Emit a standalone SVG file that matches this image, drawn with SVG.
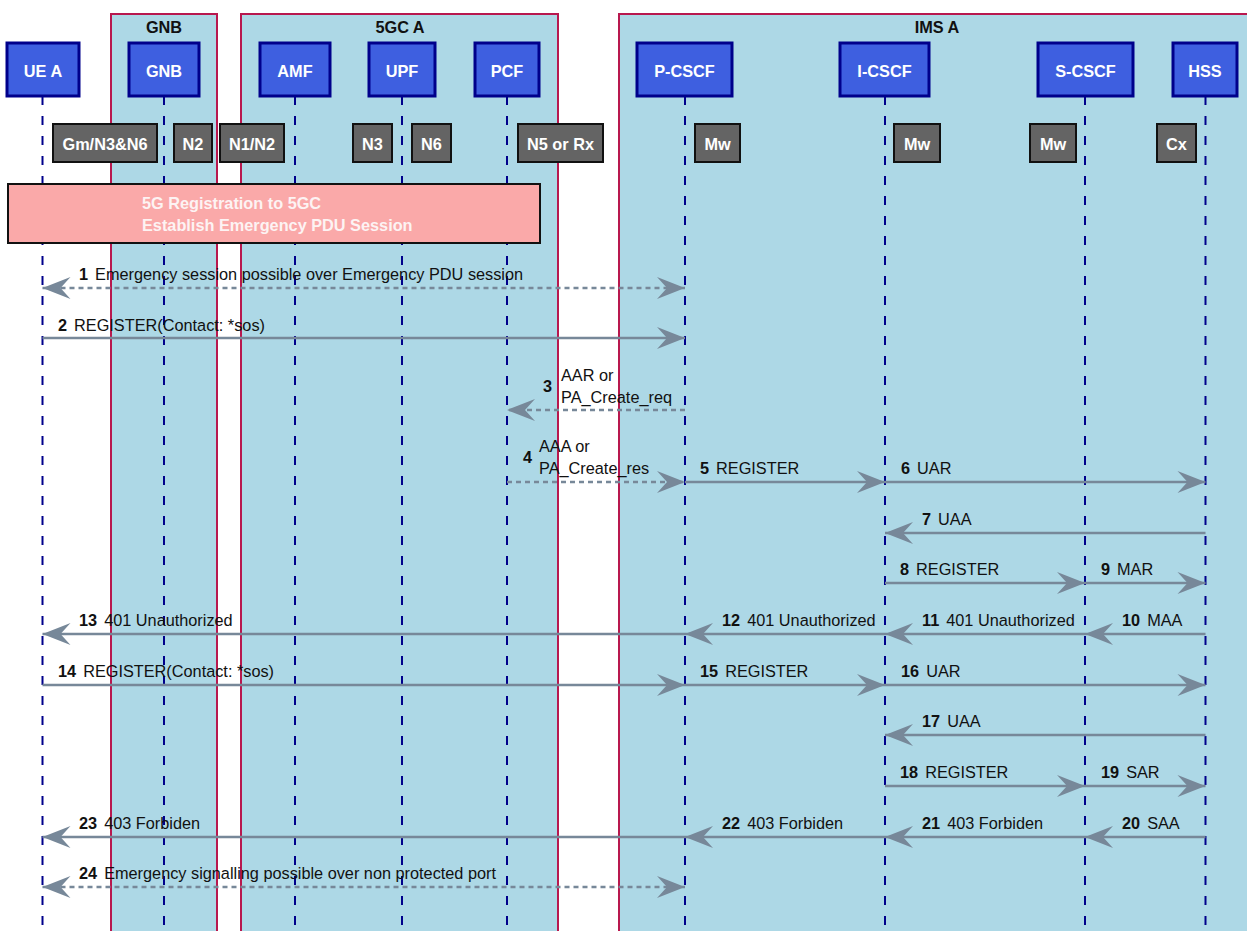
<svg xmlns="http://www.w3.org/2000/svg" width="1247" height="931" viewBox="0 0 1247 931">
<style>
text{font-family:"Liberation Sans",Arial,sans-serif;font-size:16.3px;fill:#111}
.grp{fill:#add8e6;stroke:#b8184e;stroke-width:2}
.gl{font-weight:bold;text-anchor:middle}
.node rect{fill:#3e5fe0;stroke:#00008b;stroke-width:3}
.node text{fill:#fff;font-weight:bold;text-anchor:middle}
.life{stroke:#00008b;stroke-width:2;stroke-dasharray:9,11}
.ifc rect{fill:#646464;stroke:#111;stroke-width:2}
.ifc text{fill:#fff;font-weight:bold;text-anchor:middle}
.msg{stroke:#778899;stroke-width:2.5;fill:none;marker-end:url(#ah)}
.dash{stroke-dasharray:5,4}
.bi{marker-start:url(#ah)}
.n{font-weight:bold}
</style>
<defs>
<marker id="ah" viewBox="-30 -13 32 26" refX="0" refY="0" markerWidth="32" markerHeight="26" markerUnits="userSpaceOnUse" orient="auto-start-reverse">
<path d="M0,0 L-28,-11 L-18,0 L-28,11 Z" fill="#778899"/>
</marker>
</defs>
<rect width="1247" height="931" fill="#fff"/>
<g id="group-gnb"><rect class="grp" x="111" y="14" width="106" height="930"/><text class="gl" x="164" y="33">GNB</text></g>
<g id="group-5gc"><rect class="grp" x="241" y="14" width="317" height="930"/><text class="gl" x="400" y="33">5GC A</text></g>
<g id="group-ims"><rect class="grp" x="619" y="14" width="640" height="930"/><text class="gl" x="937" y="33">IMS A</text></g>

<g id="node-uea" class="node"><line class="life" x1="42.5" y1="96" x2="42.5" y2="931"/><rect x="7" y="43" width="72" height="53"/><text x="43" y="77">UE A</text></g>
<g id="node-gnb" class="node"><line class="life" x1="164" y1="96" x2="164" y2="931"/><rect x="129" y="43" width="70" height="53"/><text x="164" y="77">GNB</text></g>
<g id="node-amf" class="node"><line class="life" x1="295" y1="96" x2="295" y2="931"/><rect x="260" y="43" width="70" height="53"/><text x="295" y="77">AMF</text></g>
<g id="node-upf" class="node"><line class="life" x1="402" y1="96" x2="402" y2="931"/><rect x="369" y="43" width="66" height="53"/><text x="402" y="77">UPF</text></g>
<g id="node-pcf" class="node"><line class="life" x1="507" y1="96" x2="507" y2="931"/><rect x="475" y="43" width="64" height="53"/><text x="507" y="77">PCF</text></g>
<g id="node-pcscf" class="node"><line class="life" x1="685" y1="96" x2="685" y2="931"/><rect x="637" y="43" width="95" height="53"/><text x="684.5" y="77">P-CSCF</text></g>
<g id="node-icscf" class="node"><line class="life" x1="885" y1="96" x2="885" y2="931"/><rect x="840" y="43" width="89" height="53"/><text x="884.5" y="77">I-CSCF</text></g>
<g id="node-scscf" class="node"><line class="life" x1="1085" y1="96" x2="1085" y2="931"/><rect x="1038" y="43" width="95" height="53"/><text x="1085.5" y="77">S-CSCF</text></g>
<g id="node-hss" class="node"><line class="life" x1="1205.5" y1="96" x2="1205.5" y2="931"/><rect x="1173" y="43" width="64" height="53"/><text x="1205" y="77">HSS</text></g>

<g id="interfaces" class="ifc">
<g id="if-gm"><rect x="53" y="124" width="104" height="38"/><text x="105" y="150">Gm/N3&amp;N6</text></g>
<g id="if-n2"><rect x="174" y="124" width="38" height="38"/><text x="193" y="150">N2</text></g>
<g id="if-n1n2"><rect x="220" y="124" width="64" height="38"/><text x="252" y="150">N1/N2</text></g>
<g id="if-n3"><rect x="353" y="124" width="39" height="38"/><text x="372.5" y="150">N3</text></g>
<g id="if-n6"><rect x="412" y="124" width="39" height="38"/><text x="431.5" y="150">N6</text></g>
<g id="if-n5"><rect x="518" y="124" width="85" height="38"/><text x="560.5" y="150">N5 or Rx</text></g>
<g id="if-mw1"><rect x="695" y="124" width="45" height="38"/><text x="717.5" y="150">Mw</text></g>
<g id="if-mw2"><rect x="894" y="124" width="46" height="38"/><text x="917" y="150">Mw</text></g>
<g id="if-mw3"><rect x="1030" y="124" width="46" height="38"/><text x="1053" y="150">Mw</text></g>
<g id="if-cx"><rect x="1157" y="124" width="39" height="38"/><text x="1176.5" y="150">Cx</text></g>
</g>

<g id="note-registration">
<rect x="8" y="184" width="532" height="59" fill="#faa9a9" stroke="#111" stroke-width="2"/>
<text x="142" y="209" font-weight="bold" style="fill:#fdf3f3">5G Registration to 5GC</text>
<text x="142" y="231" font-weight="bold" style="fill:#fdf3f3">Establish Emergency PDU Session</text>
</g>

<g id="connectors">
<line class="msg dash bi" x1="42.5" y1="288" x2="685" y2="288"/>
<line class="msg" x1="42.5" y1="338" x2="685" y2="338"/>
<line class="msg dash" x1="685" y1="410" x2="507" y2="410"/>
<line class="msg dash" x1="507" y1="482" x2="685" y2="482"/>
<line class="msg" x1="685" y1="482" x2="885" y2="482"/>
<line class="msg" x1="885" y1="482" x2="1205.5" y2="482"/>
<line class="msg" x1="1205.5" y1="533" x2="885" y2="533"/>
<line class="msg" x1="885" y1="583" x2="1085" y2="583"/>
<line class="msg" x1="1085" y1="583" x2="1205.5" y2="583"/>
<line class="msg" x1="1205.5" y1="634" x2="1085" y2="634"/>
<line class="msg" x1="1085" y1="634" x2="885" y2="634"/>
<line class="msg" x1="885" y1="634" x2="685" y2="634"/>
<line class="msg" x1="685" y1="634" x2="42.5" y2="634"/>
<line class="msg" x1="42.5" y1="685" x2="685" y2="685"/>
<line class="msg" x1="685" y1="685" x2="885" y2="685"/>
<line class="msg" x1="885" y1="685" x2="1205.5" y2="685"/>
<line class="msg" x1="1205.5" y1="735" x2="885" y2="735"/>
<line class="msg" x1="885" y1="786" x2="1085" y2="786"/>
<line class="msg" x1="1085" y1="786" x2="1205.5" y2="786"/>
<line class="msg" x1="1205.5" y1="837" x2="1085" y2="837"/>
<line class="msg" x1="1085" y1="837" x2="885" y2="837"/>
<line class="msg" x1="885" y1="837" x2="685" y2="837"/>
<line class="msg" x1="685" y1="837" x2="42.5" y2="837"/>
<line class="msg dash bi" x1="42.5" y1="887" x2="685" y2="887"/>
</g>

<g id="labels">
<text x="79" y="280"><tspan class="n">1</tspan><tspan dx="7">Emergency session possible over Emergency PDU session</tspan></text>
<text x="58" y="331"><tspan class="n">2</tspan><tspan dx="7">REGISTER(Contact: *sos)</tspan></text>
<text x="543" y="392" class="n">3</text>
<text x="561" y="381">AAR or</text>
<text x="561" y="403">PA_Create_req</text>
<text x="523" y="463" class="n">4</text>
<text x="539" y="452">AAA or</text>
<text x="539" y="474">PA_Create_res</text>
<text x="700" y="474"><tspan class="n">5</tspan><tspan dx="7">REGISTER</tspan></text>
<text x="901" y="474"><tspan class="n">6</tspan><tspan dx="7">UAR</tspan></text>
<text x="922" y="525"><tspan class="n">7</tspan><tspan dx="7">UAA</tspan></text>
<text x="900" y="575"><tspan class="n">8</tspan><tspan dx="7">REGISTER</tspan></text>
<text x="1101" y="575"><tspan class="n">9</tspan><tspan dx="7">MAR</tspan></text>
<text x="1122" y="626"><tspan class="n">10</tspan><tspan dx="7">MAA</tspan></text>
<text x="922" y="626"><tspan class="n">11</tspan><tspan dx="7">401 Unauthorized</tspan></text>
<text x="722" y="626"><tspan class="n">12</tspan><tspan dx="7">401 Unauthorized</tspan></text>
<text x="79" y="626"><tspan class="n">13</tspan><tspan dx="7">401 Unauthorized</tspan></text>
<text x="58" y="677"><tspan class="n">14</tspan><tspan dx="7">REGISTER(Contact: *sos)</tspan></text>
<text x="700" y="677"><tspan class="n">15</tspan><tspan dx="7">REGISTER</tspan></text>
<text x="901" y="677"><tspan class="n">16</tspan><tspan dx="7">UAR</tspan></text>
<text x="922" y="727"><tspan class="n">17</tspan><tspan dx="7">UAA</tspan></text>
<text x="900" y="778"><tspan class="n">18</tspan><tspan dx="7">REGISTER</tspan></text>
<text x="1101" y="778"><tspan class="n">19</tspan><tspan dx="7">SAR</tspan></text>
<text x="1122" y="829"><tspan class="n">20</tspan><tspan dx="7">SAA</tspan></text>
<text x="922" y="829"><tspan class="n">21</tspan><tspan dx="7">403 Forbiden</tspan></text>
<text x="722" y="829"><tspan class="n">22</tspan><tspan dx="7">403 Forbiden</tspan></text>
<text x="79" y="829"><tspan class="n">23</tspan><tspan dx="7">403 Forbiden</tspan></text>
<text x="79" y="879"><tspan class="n">24</tspan><tspan dx="7">Emergency signalling possible over non protected port</tspan></text>
</g>
</svg>
